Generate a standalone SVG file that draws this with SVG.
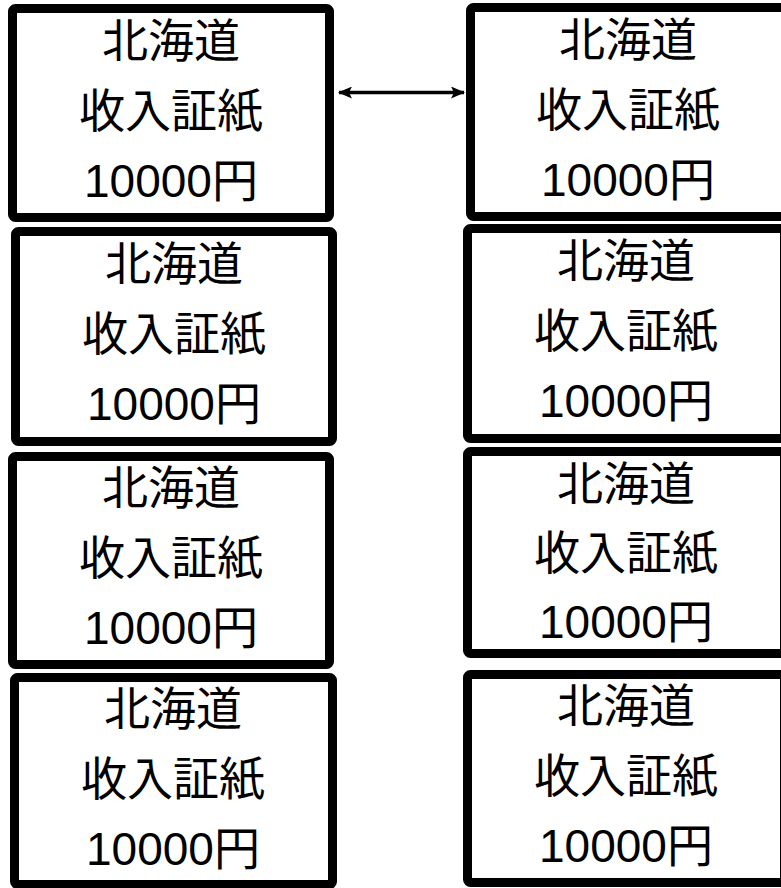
<svg xmlns="http://www.w3.org/2000/svg" width="781" height="888" viewBox="0 0 781 888">
<defs>
<style>
.box{fill:#fff;stroke:#000;stroke-width:9;stroke-linejoin:round}
.t{font-family:"Liberation Sans","Noto Sans CJK JP",sans-serif;font-size:46px;fill:#000;text-anchor:middle}
.c{font-family:"Noto Sans CJK JP",sans-serif}
</style>
<marker id="ah" viewBox="0 0 14 12" refX="13" refY="6" markerWidth="14" markerHeight="12" markerUnits="userSpaceOnUse" orient="auto-start-reverse">
<path d="M0,0 L14,6 L0,12 L3,6 z" fill="#000"/>
</marker>
</defs>
<rect width="781" height="888" fill="#fff"/>
<g id="L1"><rect class="box" x="12.5" y="8.5" width="317" height="209" rx="3"/>
<text class="t c" x="171" y="57">北海道</text><text class="t c" x="171" y="127">收入証紙</text><text class="t" x="171" y="197">10000円</text></g>
<g id="L2"><rect class="box" x="15.5" y="231.5" width="317" height="210" rx="3"/>
<text class="t c" x="174" y="280">北海道</text><text class="t c" x="174" y="350">收入証紙</text><text class="t" x="174" y="420">10000円</text></g>
<g id="L3"><rect class="box" x="12.5" y="456.5" width="317" height="208" rx="3"/>
<text class="t c" x="171" y="504">北海道</text><text class="t c" x="171" y="574">收入証紙</text><text class="t" x="171" y="644">10000円</text></g>
<g id="L4"><rect class="box" x="14.5" y="677.5" width="318" height="207" rx="3"/>
<text class="t c" x="173" y="725">北海道</text><text class="t c" x="173" y="795">收入証紙</text><text class="t" x="173" y="865">10000円</text></g>
<g id="R1"><rect class="box" x="470.5" y="7.5" width="317" height="209" rx="3"/>
<text class="t c" x="628" y="56">北海道</text><text class="t c" x="628" y="126">收入証紙</text><text class="t" x="628" y="196">10000円</text></g>
<g id="R2"><rect class="box" x="467.5" y="228.5" width="317" height="210" rx="3"/>
<text class="t c" x="626" y="277">北海道</text><text class="t c" x="626" y="347">收入証紙</text><text class="t" x="626" y="417">10000円</text></g>
<g id="R3"><rect class="box" x="467.5" y="451.5" width="317" height="202" rx="3"/>
<text class="t c" x="626" y="500">北海道</text><text class="t c" x="626" y="569">收入証紙</text><text class="t" x="626" y="638">10000円</text></g>
<g id="R4"><rect class="box" x="467.5" y="674.5" width="317" height="208" rx="3"/>
<text class="t c" x="626" y="722">北海道</text><text class="t c" x="626" y="792">收入証紙</text><text class="t" x="626" y="862">10000円</text></g>
<g id="connectors">
<line x1="339" y1="92.5" x2="464" y2="92.5" stroke="#000" stroke-width="3.5" marker-start="url(#ah)" marker-end="url(#ah)"/>
</g>
</svg>
